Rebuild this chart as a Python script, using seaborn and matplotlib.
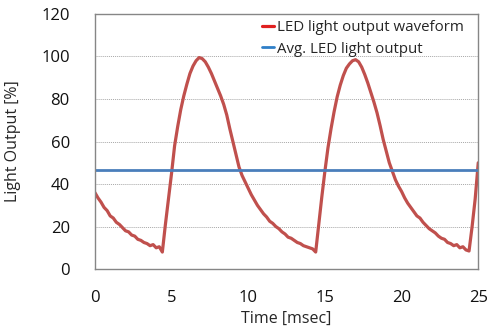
import numpy as np
import pandas as pd
import matplotlib
matplotlib.use("Agg")
import matplotlib.pyplot as plt
import seaborn as sns

# sample times [msec]
time_ms = [
    0.0, 0.2, 0.4, 0.6, 0.8, 1.0, 1.2, 1.4, 1.6, 1.8,
    2.0, 2.2, 2.4, 2.6, 2.8, 3.0, 3.2, 3.4, 3.6, 3.8,
    4.0, 4.2, 4.4, 4.6, 4.8, 5.0, 5.2, 5.4, 5.6, 5.8,
    6.0, 6.2, 6.4, 6.6, 6.8, 7.0, 7.2, 7.4, 7.6, 7.8,
    8.0, 8.2, 8.4, 8.6, 8.8, 9.0, 9.2, 9.4, 9.6, 9.8,
    10.0, 10.2, 10.4, 10.6, 10.8, 11.0, 11.2, 11.4, 11.6, 11.8,
    12.0, 12.2, 12.4, 12.6, 12.8, 13.0, 13.2, 13.4, 13.6, 13.8,
    14.0, 14.2, 14.4, 14.6, 14.8, 15.0, 15.2, 15.4, 15.6, 15.8,
    16.0, 16.2, 16.4, 16.6, 16.8, 17.0, 17.2, 17.4, 17.6, 17.8,
    18.0, 18.2, 18.4, 18.6, 18.8, 19.0, 19.2, 19.4, 19.6, 19.8,
    20.0, 20.2, 20.4, 20.6, 20.8, 21.0, 21.2, 21.4, 21.6, 21.8,
    22.0, 22.2, 22.4, 22.6, 22.8, 23.0, 23.2, 23.4, 23.6, 23.8,
    24.0, 24.2, 24.4, 24.6, 24.8, 25.0,
]

# LED light output waveform [%]
light_output = [
    36.0, 33.5, 31.5, 29.0, 27.5, 25.0, 24.0, 22.0, 21.0, 19.5,
    18.0, 17.5, 16.0, 15.5, 14.0, 13.5, 12.5, 12.0, 11.0, 11.5,
    10.0, 10.5, 8.0, 21.0, 33.0, 45.0, 58.0, 67.0, 75.0, 81.5,
    87.0, 92.0, 95.5, 98.0, 99.5, 99.0, 97.5, 95.0, 92.0, 88.5,
    85.0, 81.5, 77.5, 72.5, 66.0, 60.0, 54.0, 48.0, 44.0, 41.0,
    38.0, 35.0, 32.5, 30.0, 28.0, 26.0, 24.5, 22.5, 21.5, 20.0,
    19.0, 17.5, 16.5, 15.0, 14.5, 13.5, 12.5, 12.0, 11.0, 10.5,
    10.0, 9.5, 8.0, 21.0, 34.0, 46.0, 57.0, 66.0, 74.0, 81.0,
    86.5, 91.0, 94.5, 96.5, 98.0, 98.5, 97.5, 95.0, 91.5, 87.5,
    83.0, 78.5, 73.5, 67.5, 61.0, 55.5, 50.0, 46.0, 42.0, 39.0,
    36.5, 33.5, 31.0, 29.0, 27.0, 25.0, 24.0, 22.0, 20.5, 19.0,
    18.0, 17.0, 15.5, 14.5, 14.0, 12.5, 12.0, 11.0, 11.5, 10.0,
    10.5, 9.0, 8.5, 20.0, 33.0, 50.0,
]

avg_time = [0.0, 25.0]
avg_output = [46.5, 46.5]

x_ticks = [0, 5, 10, 15, 20, 25]
y_ticks = [0, 20, 40, 60, 80, 100, 120]

df = pd.DataFrame({"time": time_ms, "output": light_output})
df_avg = pd.DataFrame({"time": avg_time, "output": avg_output})

sns.set_style("white")
plt.rcParams["font.family"] = ["Open Sans", "DejaVu Sans"]

fig = plt.figure(figsize=(4.89, 3.33), dpi=100)
ax = fig.add_axes([0.194, 0.192, 0.784, 0.766])

sns.lineplot(data=df, x="time", y="output", ax=ax, color="#C0504D",
             linewidth=2.3, label="LED light output waveform")
sns.lineplot(data=df_avg, x="time", y="output", ax=ax, color="#4A7EBB",
             linewidth=2.0, label="Avg. LED light output")

ax.set_xlim(0, 25)
ax.set_ylim(0, 120)
ax.set_xticks(x_ticks)
ax.set_yticks(y_ticks)
ax.yaxis.grid(True, linestyle=(0, (1, 1)), color="#A8A8A8", linewidth=0.7)
ax.xaxis.grid(False)
for s in ax.spines.values():
    s.set_color("#868686")
    s.set_linewidth(1.0)
ax.tick_params(axis="both", direction="out", length=6, width=1.0,
               color="#868686", labelsize=12, labelcolor="#111111")
ax.tick_params(axis="y", pad=12)
ax.tick_params(axis="x", pad=9)
ax.set_xlabel("Time [msec]", fontsize=11.5)
ax.set_ylabel("Light Output [%]", fontsize=11.5)
ax.xaxis.set_label_coords(0.5, -0.163)
ax.yaxis.set_label_coords(-0.193, 0.5)

leg = ax.legend(loc="upper left", bbox_to_anchor=(0.42, 1.0), frameon=False,
                fontsize=10.8, handlelength=0.8, handletextpad=0.2,
                labelspacing=0.45, borderaxespad=0)
leg.get_lines()[0].set_color("#E02020")
leg.get_lines()[1].set_color("#2F7FC8")

fig.savefig("out.png", dpi=100)
